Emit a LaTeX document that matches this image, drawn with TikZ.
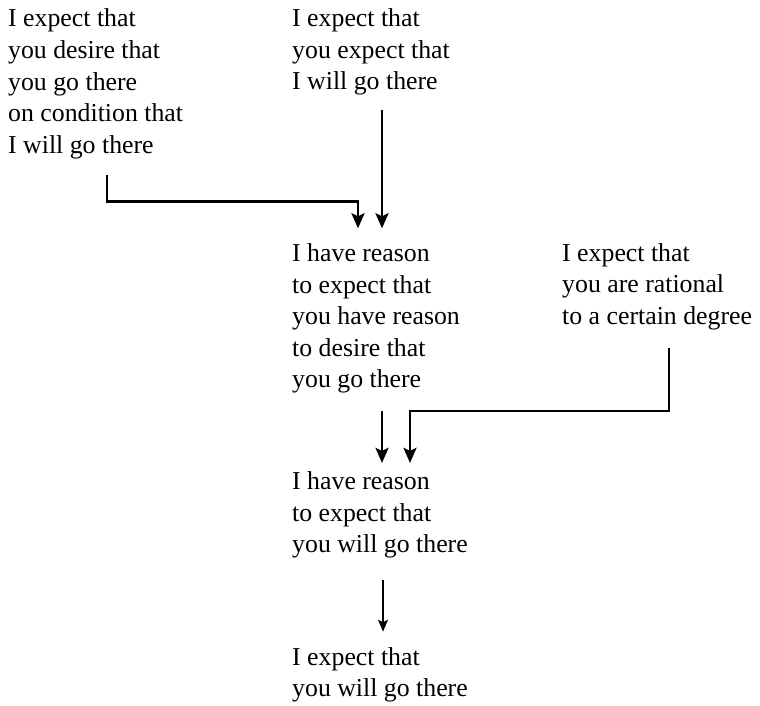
\documentclass[tikz,border=0pt]{standalone}
\usepackage{fontspec}
\setmainfont{Liberation Serif}
\usetikzlibrary{arrows.meta}

\begin{document}
\begin{tikzpicture}[x=1pt,y=1pt,
  txt/.style={anchor=base west,inner sep=0pt,align=left,
    font=\fontsize{25.8pt}{31.6pt}\selectfont},
  bigarrow/.style={line width=2.6pt,-{Stealth[length=15pt,width=13pt,inset=3pt]}},
  smallarrow/.style={line width=1.2pt,-{Stealth[length=12pt,width=10pt,inset=2.5pt]}}]
\useasboundingbox (0,0) rectangle (760,706);

\node[txt] (desire) at (8,552.7)
  {I expect that\\you desire that\\you go there\\on condition that\\I will go there};
\node[txt] (expect) at (292,616)
  {I expect that\\you expect that\\I will go there};
\node[txt] (reasondesire) at (292,318)
  {I have reason\\to expect that\\you have reason\\to desire that\\you go there};
\node[txt] (rational) at (562,381.7)
  {I expect that\\you are rational\\to a certain degree};
\node[txt] (reasongo) at (292,153.3)
  {I have reason\\to expect that\\you will go there};
\node[txt] (expectgo) at (292,9.3)
  {I expect that\\you will go there};

\draw[bigarrow] ([xshift=99pt,yshift=-16.1pt]desire.south west)
  |- ([xshift=66pt,yshift=42.2pt]reasondesire.north west)
  -- ([xshift=66pt,yshift=15.2pt]reasondesire.north west);
\draw[bigarrow] ([xshift=90pt,yshift=-14.4pt]expect.south west)
  -- ([xshift=90pt,yshift=15.2pt]reasondesire.north west);
\draw[bigarrow] ([xshift=107pt,yshift=-18.1pt]rational.south west)
  |- ([xshift=118pt,yshift=60.5pt]reasongo.north west)
  -- ([xshift=118pt,yshift=8.5pt]reasongo.north west);
\draw[bigarrow] ([xshift=90pt,yshift=-17.4pt]reasondesire.south west)
  -- ([xshift=90pt,yshift=8.5pt]reasongo.north west);
\draw[smallarrow] ([xshift=91pt,yshift=-21.7pt]reasongo.south west)
  -- ([xshift=91pt,yshift=15.3pt]expectgo.north west);

\end{tikzpicture}
\end{document}
